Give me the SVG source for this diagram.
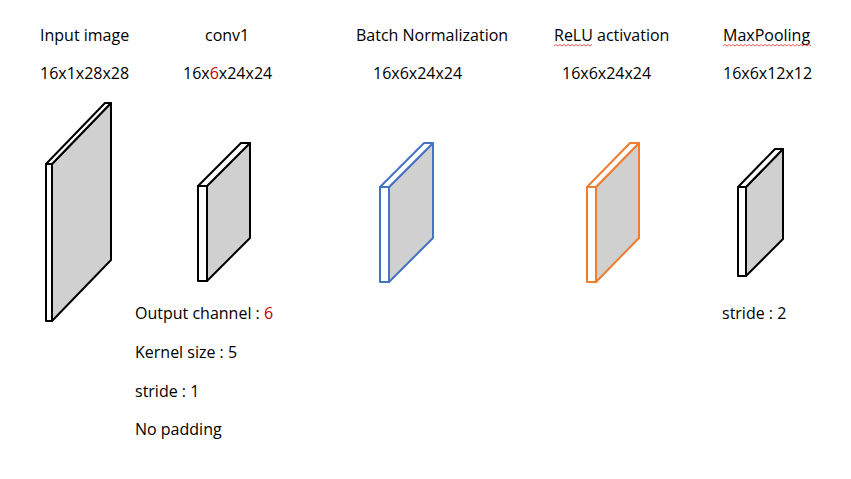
<svg xmlns="http://www.w3.org/2000/svg" width="851" height="479" viewBox="0 0 851 479">
<style>
text{font-family:"Open Sans","Noto Sans","Liberation Sans",sans-serif;font-size:16px;fill:#000}
.red{fill:#C00000}
.side{fill:#D0D0D0;stroke-width:2;stroke-linejoin:round}
.face{fill:#fff;stroke-width:2;stroke-linejoin:round}
.k{stroke:#000}.b{stroke:#4472C4}.o{stroke:#ED7D31}
.sq{fill:none;stroke:#E03030;stroke-width:0.8}
</style>
<rect width="851" height="479" fill="#fff"/>
<g id="input">
<polygon class="side k" points="52,164 111,103 111,260 52,321"/>
<polygon class="face k" points="46,164 52,164 111,103 105,103"/>
<rect class="face k" x="46" y="164" width="6" height="157"/>
</g>
<g id="conv1">
<polygon class="side k" points="207,186 250,143 250,238 207,281"/>
<polygon class="face k" points="198,186 207,186 250,143 241,143"/>
<rect class="face k" x="198" y="186" width="9" height="95"/>
</g>
<g id="bn">
<polygon class="side b" points="389,187 433,143 433,238 389,282"/>
<polygon class="face b" points="380,187 389,187 433,143 424,143"/>
<rect class="face b" x="380" y="187" width="9" height="95"/>
</g>
<g id="relu">
<polygon class="side o" points="596,187 639,143 639,238 596,282"/>
<polygon class="face o" points="587,187 596,187 639,143 630,143"/>
<rect class="face o" x="587" y="187" width="9" height="95"/>
</g>
<g id="maxpool">
<polygon class="side k" points="746,187 783,149 783,239 746,276"/>
<polygon class="face k" points="738,187 746,187 783,149 775,149"/>
<rect class="face k" x="738" y="187" width="8" height="89"/>
</g>
<g id="labels">
<text x="40" y="41">Input image</text>
<text x="40" y="79">16x1x28x28</text>
<text x="205" y="41">conv1</text>
<text x="183" y="79">16x<tspan class="red">6</tspan>x24x24</text>
<text x="356" y="41">Batch Normalization</text>
<text x="373" y="79">16x6x24x24</text>
<text x="554" y="41">ReLU activation</text>
<text x="562" y="79">16x6x24x24</text>
<text x="723" y="41">MaxPooling</text>
<text x="723" y="79">16x6x12x12</text>
<text x="135" y="319">Output channel : <tspan class="red">6</tspan></text>
<text x="135" y="358">Kernel size : 5</text>
<text x="135" y="397">stride : 1</text>
<text x="135" y="435">No padding</text>
<text x="722" y="319">stride : 2</text>
<path class="sq" d="M554,46 l2,-1.5 l2,1.5 l2,-1.5 l2,1.5 l2,-1.5 l2,1.5 l2,-1.5 l2,1.5 l2,-1.5 l2,1.5 l2,-1.5 l2,1.5 l2,-1.5 l2,1.5 l2,-1.5 l2,1.5 l2,-1.5 l2,1.5 l2,-1.5"/>
<path class="sq" d="M723,46 l2,-1.5 l2,1.5 l2,-1.5 l2,1.5 l2,-1.5 l2,1.5 l2,-1.5 l2,1.5 l2,-1.5 l2,1.5 l2,-1.5 l2,1.5 l2,-1.5 l2,1.5 l2,-1.5 l2,1.5 l2,-1.5 l2,1.5 l2,-1.5 l2,1.5 l2,-1.5 l2,1.5 l2,-1.5 l2,1.5 l2,-1.5 l2,1.5 l2,-1.5 l2,1.5 l2,-1.5 l2,1.5 l2,-1.5 l2,1.5 l2,-1.5 l2,1.5 l2,-1.5 l2,1.5 l2,-1.5 l2,1.5 l2,-1.5 l2,1.5 l2,-1.5 l2,1.5 l2,-1.5 l2,1.5"/>
</g>
</svg>
